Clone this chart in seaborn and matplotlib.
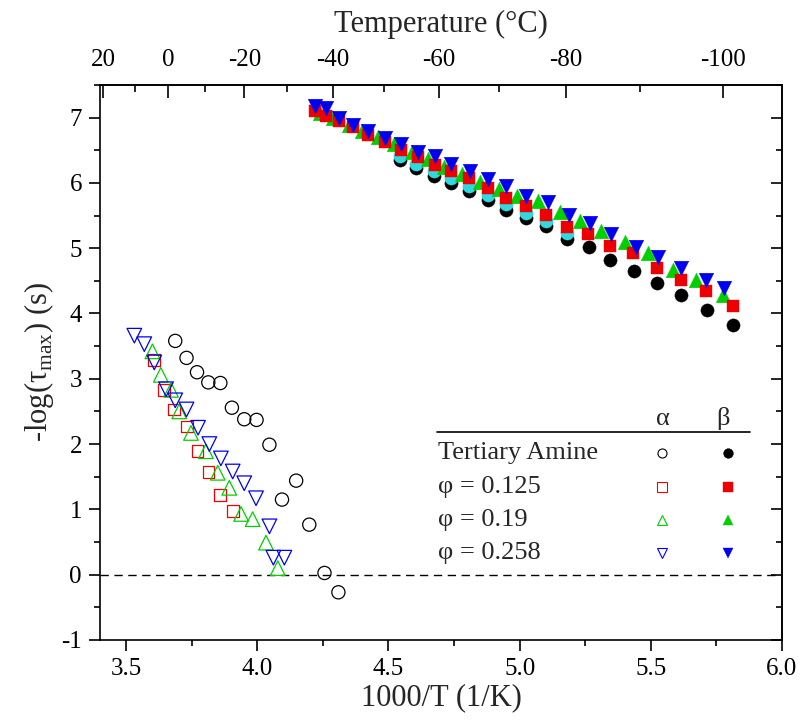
"""Relaxation map: alpha and beta relaxation times vs inverse temperature."""

import numpy as np
import matplotlib.pyplot as plt
import seaborn as sns
from matplotlib.ticker import FixedLocator, MultipleLocator

# ---- alpha relaxation (open symbols) ----
amine_a_x = [3.687, 3.730, 3.770, 3.813, 3.859, 3.903, 3.950, 3.997, 4.046,
             4.148, 4.094, 4.198, 4.256, 4.309]
amine_a_y = [3.58, 3.32, 3.10, 2.945, 2.935, 2.557, 2.38, 2.37, 1.99,
             1.44, 1.15, 0.766, 0.026, -0.27]

p125_a_x = [3.607, 3.645, 3.683, 3.732, 3.772, 3.814, 3.859, 3.906]
p125_a_y = [3.29, 2.83, 2.53, 2.27, 1.89, 1.57, 1.22, 0.98]

p19_a_x = [3.600, 3.632, 3.671, 3.702, 3.747, 3.804, 3.849, 3.893, 3.938,
           3.982, 4.033, 4.078]
p19_a_y = [3.42, 3.06, 2.83, 2.50, 2.17, 1.89, 1.56, 1.33, 0.93, 0.85, 0.49, 0.10]

p258_a_x = [3.531, 3.569, 3.607, 3.652, 3.687, 3.730, 3.774, 3.817, 3.861,
            3.906, 3.950, 3.995, 4.046, 4.061, 4.103]
p258_a_y = [3.66, 3.53, 3.25, 2.84, 2.67, 2.53, 2.25, 2.00, 1.78, 1.58,
            1.40, 1.17, 0.74, 0.26, 0.26]

# ---- beta relaxation (filled symbols) ----
amine_b_x = [4.542, 4.606, 4.672, 4.739, 4.807, 4.879, 4.949, 5.023, 5.102,
             5.182, 5.263, 5.346, 5.435, 5.524, 5.617, 5.715, 5.814]
amine_b_y = [6.345, 6.228, 6.110, 5.998, 5.881, 5.743, 5.590, 5.463, 5.334,
             5.145, 5.012, 4.824, 4.655, 4.467, 4.288, 4.047, 3.828]

# unlabelled cyan points sitting just above the black ones
extra_b_x = [4.542, 4.606, 4.672, 4.739, 4.807, 4.879, 4.949, 5.023, 5.102, 5.182]
extra_b_y = [6.41, 6.29, 6.18, 6.08, 5.95, 5.82, 5.68, 5.54, 5.41, 5.23]

p125_b_x = [4.218, 4.262, 4.313, 4.364, 4.421, 4.485, 4.548, 4.612, 4.676,
            4.739, 4.807, 4.879, 4.949, 5.023, 5.102, 5.182, 5.261, 5.344,
            5.433, 5.522, 5.617, 5.712, 5.814]
p125_b_y = [7.10, 7.03, 6.95, 6.85, 6.74, 6.62, 6.51, 6.39, 6.28, 6.18, 6.08,
            5.92, 5.77, 5.64, 5.51, 5.32, 5.21, 5.03, 4.92, 4.70, 4.52, 4.34, 4.12]

p19_b_x = [4.24, 4.29, 4.35, 4.40, 4.46, 4.52, 4.59, 4.65, 4.71, 4.78, 4.85,
           4.92, 4.99, 5.069, 5.153, 5.229, 5.312, 5.401, 5.490, 5.585, 5.674, 5.776]
p19_b_y = [7.07, 6.99, 6.89, 6.80, 6.70, 6.59, 6.47, 6.36, 6.25, 6.13, 6.01,
           5.90, 5.80, 5.72, 5.56, 5.41, 5.26, 5.10, 4.93, 4.67, 4.52, 4.29]

p258_b_x = [4.218, 4.262, 4.313, 4.364, 4.421, 4.485, 4.548, 4.612, 4.676,
            4.739, 4.809, 4.879, 4.949, 5.026, 5.109, 5.189, 5.267, 5.350,
            5.442, 5.528, 5.617, 5.712, 5.779]
p258_b_y = [7.17, 7.15, 6.99, 6.89, 6.79, 6.69, 6.59, 6.48, 6.41, 6.29, 6.18,
            6.06, 5.95, 5.80, 5.70, 5.51, 5.39, 5.21, 5.02, 4.87, 4.69, 4.52, 4.39]

labels = ['Tertiary Amine', 'φ = 0.125', 'φ = 0.19', 'φ = 0.258']
colors = ['black', '#ee0000', '#00d000', '#0000ee']
markers = ['o', 's', '^', 'v']
sizes = [9.5, 8.5, 10.5, 10.5]

temp_major = [20, 0, -20, -40, -60, -80, -100]
temp_minor = [10, -10, -30, -50, -70, -90]

sns.set_style('ticks')
plt.rcParams['font.family'] = ['Liberation Serif', 'DejaVu Serif']
plt.rcParams['mathtext.fontset'] = 'custom'
plt.rcParams['mathtext.rm'] = 'Liberation Serif'
plt.rcParams['axes.unicode_minus'] = False
plt.rcParams['axes.edgecolor'] = 'black'
plt.rcParams['xtick.color'] = 'black'
plt.rcParams['ytick.color'] = 'black'
plt.rcParams['axes.linewidth'] = 1.2

fig = plt.figure(figsize=(8.01, 7.21), dpi=100)
ax = fig.add_axes([0.1248, 0.1124, 0.8514, 0.7698])

ax.axhline(0, color='black', lw=1.0, ls=(0, (6, 4)), zorder=1)

alpha_sets = [(amine_a_x, amine_a_y), (p125_a_x, p125_a_y),
              (p19_a_x, p19_a_y), (p258_a_x, p258_a_y)]
for (xs, ys), c, m, ms in zip(alpha_sets, colors, markers, sizes):
    sns.scatterplot(x=xs, y=ys, marker=m, s=ms ** 2, facecolor='none',
                    edgecolor=c, linewidth=0.9, ax=ax, zorder=3)

sns.scatterplot(x=amine_b_x, y=amine_b_y, marker='o', s=sizes[0] ** 2,
                color='black', edgecolor='black', linewidth=0.3, ax=ax, zorder=3)
sns.scatterplot(x=extra_b_x, y=extra_b_y, marker='o', s=sizes[0] ** 2,
                color='#30d8e0', edgecolor='#30d8e0', linewidth=0.3, ax=ax, zorder=3)
beta_sets = [(p19_b_x, p19_b_y, 2), (p125_b_x, p125_b_y, 1), (p258_b_x, p258_b_y, 3)]
for xs, ys, i in beta_sets:
    sns.scatterplot(x=xs, y=ys, marker=markers[i], s=sizes[i] ** 2,
                    color=colors[i], edgecolor=colors[i], linewidth=0.3,
                    ax=ax, zorder=3)

ax.set_xlim(3.4, 6.0)
ax.set_ylim(-1, 7.5)
ax.xaxis.set_major_locator(MultipleLocator(0.5))
ax.xaxis.set_minor_locator(MultipleLocator(0.25))
ax.yaxis.set_major_locator(MultipleLocator(1))
ax.yaxis.set_minor_locator(MultipleLocator(0.5))
ax.xaxis.set_major_formatter(plt.FormatStrFormatter('%.1f'))
ax.tick_params(which='major', direction='out', length=8, width=1.2,
               labelsize=18, pad=5)
ax.tick_params(which='minor', direction='out', length=4.5, width=1.2)
ax.set_xlabel('1000/T (1/K)', fontsize=22, labelpad=2)
ax.set_ylabel('-log(τ$_{\\mathrm{max}}$) (s)', fontsize=22, labelpad=4)


def to_celsius(x):
    with np.errstate(divide='ignore', invalid='ignore'):
        return 1000.0 / np.asarray(x, dtype=float) - 273.15


def to_inv(t):
    with np.errstate(divide='ignore', invalid='ignore'):
        return 1000.0 / (np.asarray(t, dtype=float) + 273.15)


top = ax.secondary_xaxis('top', functions=(to_celsius, to_inv))
top.set_xticks(temp_major)
top.xaxis.set_minor_locator(FixedLocator(temp_minor))
top.xaxis.set_major_formatter(plt.FormatStrFormatter('%d'))
top.tick_params(which='major', direction='in', length=9, width=1.2,
                labelsize=18, pad=10)
top.tick_params(which='minor', direction='in', length=5, width=1.2)
top.set_xlabel('Temperature (°C)', fontsize=22, labelpad=12)

right = ax.secondary_yaxis('right', functions=(lambda y: y, lambda y: y))
right.yaxis.set_major_locator(MultipleLocator(1))
right.yaxis.set_minor_locator(MultipleLocator(0.5))
right.tick_params(which='major', direction='in', length=8, width=1.2, labelright=False)
right.tick_params(which='minor', direction='in', length=4.5, width=1.2)

# ---- table-style legend ----
ax.plot([0.494, 0.953], [0.375, 0.375], color='black', lw=1.2,
        transform=ax.transAxes)
ax.text(0.8255, 0.378, 'α', fontsize=19, ha='center', va='bottom',
        transform=ax.transAxes)
ax.text(0.9135, 0.378, 'β', fontsize=19, ha='center', va='bottom',
        transform=ax.transAxes)
row_y = [0.337, 0.276, 0.216, 0.157]
for lab, c, m, yy in zip(labels, colors, markers, row_y):
    ax.text(0.4956, yy, lab, fontsize=19, ha='left', va='center',
            transform=ax.transAxes)
    ax.plot([0.824], [yy], marker=m, ms=6.5, mfc='none', mec=c, mew=0.8,
            ls='none', transform=ax.transAxes)
    ax.plot([0.9208], [yy], marker=m, ms=7, mfc=c, mec=c, mew=0.3,
            ls='none', transform=ax.transAxes)

fig.savefig('out.png', dpi=100)
